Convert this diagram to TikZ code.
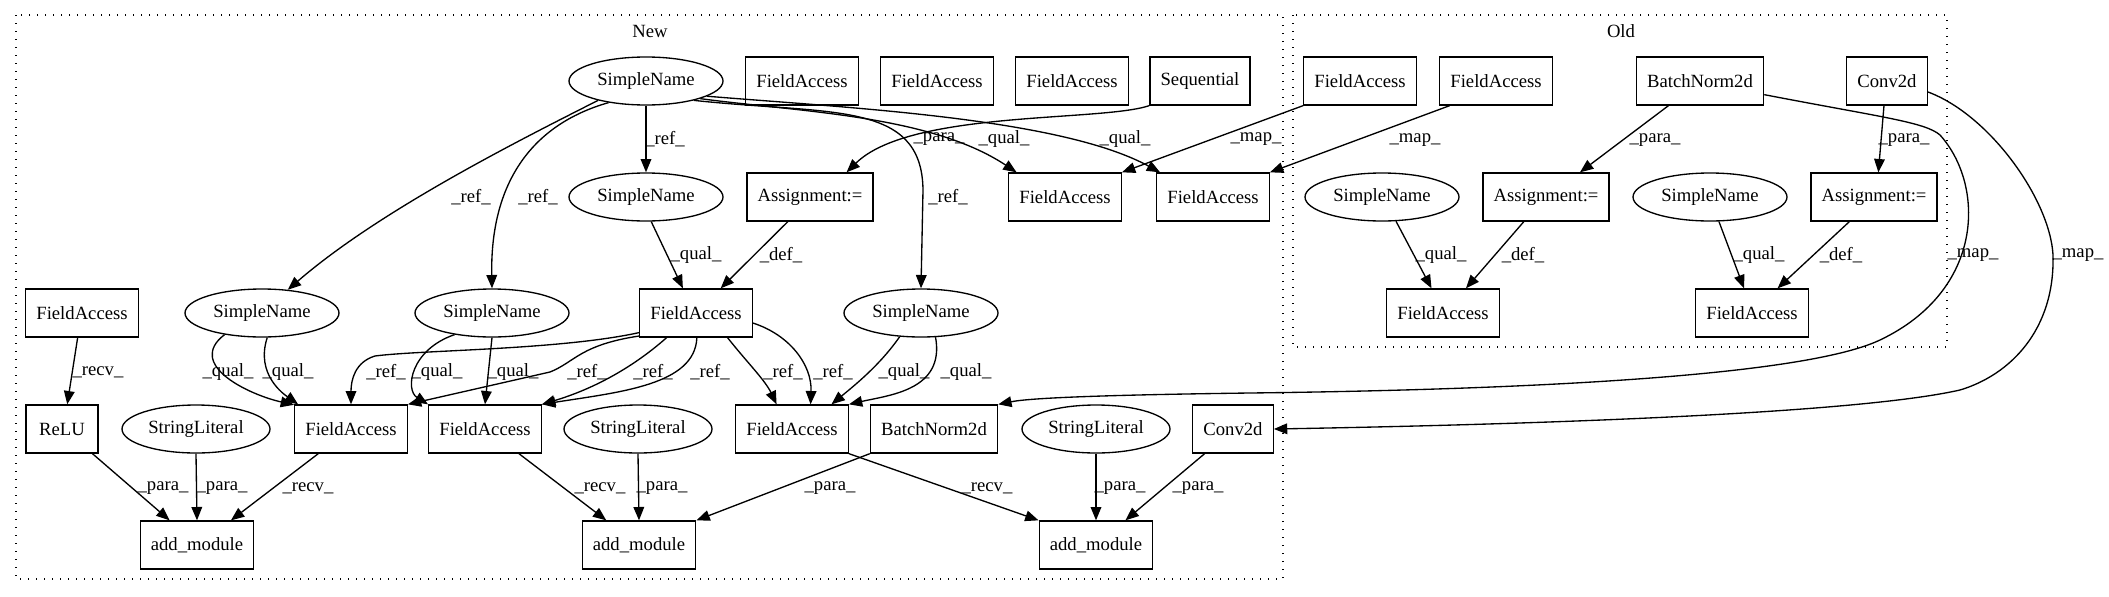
\documentclass[tikz,border=0pt]{standalone}
\usepackage{fontspec}
\setmainfont{Liberation Serif}
\usetikzlibrary{arrows.meta, shapes.geometric}

\begin{document}
\begin{tikzpicture}[
    x=0.75pt, y=-0.75pt,
    >={Triangle[length=10pt,width=8pt]},
    box/.style={
      draw, rectangle,
      line width=1pt,
      minimum height=36pt,
      minimum width=54pt,
      inner xsep=8pt, inner ysep=0pt,
      font=\fontsize{14pt}{17pt}\selectfont,
    },
    oval/.style={
      draw, ellipse,
      line width=1pt,
      minimum height=36pt,
      inner sep=0pt,
      font=\fontsize{14pt}{17pt}\selectfont,
    },
    sname/.style={oval, minimum width=115.5pt},
    slit/.style={oval, minimum width=111pt},
    conn/.style={->, line width=1pt},
    lbl/.style={font=\fontsize{14pt}{17pt}\selectfont, inner sep=0pt},
    cluster/.style={line width=1pt, dash pattern=on 1pt off 5pt},
  ]

  \useasboundingbox (0,0) rectangle (2109,596);

  % --- Clusters ---
  \draw[cluster] (16,15) rectangle (1283,579);
  \node[lbl] (tnew) at (650,31) {New};
  \draw[cluster] (1293,15) rectangle (1947,347);
  \node[lbl] (told) at (1621,31) {Old};

  % --- New: nodes ---
  \node[sname] (S0) at (646,81) {SimpleName};
  \node[box] (FA1) at (802,81) {FieldAccess};
  \node[box] (FA2) at (937,81) {FieldAccess};
  \node[box] (FA3) at (1072,81) {FieldAccess};
  \node[box] (Seq) at (1200,81) {Sequential};

  \node[sname] (S1) at (646,197) {SimpleName};
  \node[box] (A1) at (810,197) {Assignment:=};
  \node[box] (FB1) at (1065,197) {FieldAccess};
  \node[box] (FB2) at (1213,197) {FieldAccess};

  \node[box] (FL) at (82,313) {FieldAccess};
  \node[sname] (S2) at (262,313) {SimpleName};
  \node[sname] (S3) at (492,313) {SimpleName};
  \node[box] (FM) at (696,313) {FieldAccess};
  \node[sname] (S4) at (921,313) {SimpleName};

  \node[box] (ReLU) at (62,429) {ReLU};
  \node[slit] (SL1) at (196,429) {StringLiteral};
  \node[box] (FR1) at (351,429) {FieldAccess};
  \node[box] (FR2) at (485,429) {FieldAccess};
  \node[slit] (SL2) at (638,429) {StringLiteral};
  \node[box] (FR3) at (792,429) {FieldAccess};
  \node[box] (BN) at (934,429) {BatchNorm2d};
  \node[slit] (SL3) at (1096,429) {StringLiteral};
  \node[box] (CV) at (1233,429) {Conv2d};

  \node[box] (AM1) at (197,545) {add\_module};
  \node[box] (AM2) at (639,545) {add\_module};
  \node[box] (AM3) at (1096,545) {add\_module};

  % --- Old: nodes ---
  \node[box] (OF1) at (1360,81) {FieldAccess};
  \node[box] (OF2) at (1496,81) {FieldAccess};
  \node[box] (OBN) at (1700,81) {BatchNorm2d};
  \node[box] (OCV) at (1887,81) {Conv2d};

  \node[sname] (OS1) at (1382,197) {SimpleName};
  \node[box] (OA1) at (1546,197) {Assignment:=};
  \node[sname] (OS2) at (1710,197) {SimpleName};
  \node[box] (OA2) at (1874,197) {Assignment:=};

  \node[box] (OG1) at (1443,313) {FieldAccess};
  \node[box] (OG2) at (1752,313) {FieldAccess};

  % --- New: top rows ---
  \draw[conn] (S0) -- (S1) node[lbl] at (665,139) {\_ref\_};
  \draw[conn] (S0.-158) .. controls (520,140) and (380,210) .. (S2.42)
    node[lbl] at (471,197) {\_ref\_};
  \draw[conn] (S0.-150) .. controls (530,125) and (490,185) .. (S3.north)
    node[lbl] at (538,197) {\_ref\_};
  \draw[conn] (S0.-22) .. controls (830,115) and (922,100) .. (923,190) -- (S4.north)
    node[lbl] at (948,197) {\_ref\_};
  \draw[conn] (S0.-18) .. controls (800,112) and (930,115) .. (FB1.153)
    node[lbl] at (1004,139) {\_qual\_};
  \draw[conn] (S0.-14) .. controls (850,108) and (1060,118) .. (FB2.155)
    node[lbl] at (1125,139) {\_qual\_};
  \draw[conn] (Seq.south west) .. controls (1100,122) and (910,110) .. (A1.34)
    node[lbl] at (939,139) {\_para\_};
  \draw[conn] (S1.-78) -- (FM.118) node[lbl] at (696,255) {\_qual\_};
  \draw[conn] (A1.-132) -- (FM.45) node[lbl] at (781,255) {\_def\_};

  % --- New: qualifiers and references ---
  \draw[conn] (FL.-100) -- (ReLU.78) node[lbl] at (98,372) {\_recv\_};
  \draw[conn] (S2.-150) .. controls (185,365) and (250,395) .. (FR1.157)
    node[lbl] at (228,372) {\_qual\_};
  \draw[conn] (S2.-78) .. controls (255,375) and (285,395) .. (FR1.155)
    node[lbl] at (288,372) {\_qual\_};
  \draw[conn] (S3.-150) .. controls (410,350) and (405,390) .. (FR2.north west)
    node[lbl] at (437,372) {\_qual\_};
  \draw[conn] (S3.south) -- (FR2.north) node[lbl] at (513,372) {\_qual\_};
  \draw[conn] (FM.-161) .. controls (560,350) and (420,350) .. (375,356)
    .. controls (355,362) and (351,380) .. (FR1.north)
    node[lbl] at (386,372) {\_ref\_};
  \draw[conn] (FM.-158) .. controls (580,345) and (575,362) .. (550,372) -- (FR1.north east)
    node[lbl] at (587,372) {\_ref\_};
  \draw[conn] (FM.-140) .. controls (630,370) and (590,390) .. (FR2.north east)
    node[lbl] at (653,372) {\_ref\_};
  \draw[conn] (FM.-88) .. controls (695,385) and (620,392) .. (FR2.north east)
    node[lbl] at (710,372) {\_ref\_};
  \draw[conn] (FM.-38) .. controls (745,360) and (765,380) .. (FR3.122)
    node[lbl] at (783,372) {\_ref\_};
  \draw[conn] (FM.-10) .. controls (790,335) and (812,365) .. (FR3.53)
    node[lbl] at (833,372) {\_ref\_};
  \draw[conn] (S4.-132) .. controls (880,365) and (855,385) .. (FR3.32)
    node[lbl] at (904,372) {\_qual\_};
  \draw[conn] (S4.-59) .. controls (945,390) and (890,395) .. (FR3.north east)
    node[lbl] at (966,372) {\_qual\_};

  % --- New: add_module calls ---
  \draw[conn] (ReLU.-39) -- (AM1.138) node[lbl] at (163,488) {\_para\_};
  \draw[conn] (SL1.south) -- (AM1.north) node[lbl] at (222,488) {\_para\_};
  \draw[conn] (FR1.-143) -- (AM1.36) node[lbl] at (308,488) {\_recv\_};
  \draw[conn] (FR2.-36) -- (AM2.143) node[lbl] at (600,488) {\_recv\_};
  \draw[conn] (SL2.south) -- (AM2.north) node[lbl] at (662,488) {\_para\_};
  \draw[conn] (BN.south west) -- (AM2.north east) node[lbl] at (830,488) {\_para\_};
  \draw[conn] (FR3.south east) -- (AM3.north west) node[lbl] at (987,488) {\_recv\_};
  \draw[conn] (SL3.south) -- (AM3.north) node[lbl] at (1120,488) {\_para\_};
  \draw[conn] (CV.-139) -- (AM3.40) node[lbl] at (1198,488) {\_para\_};

  % --- Old: edges ---
  \draw[conn] (OBN.-142) -- (OA1.36) node[lbl] at (1655,140) {\_para\_};
  \draw[conn] (OCV.-97) -- (OA2.80) node[lbl] at (1904,140) {\_para\_};
  \draw[conn] (OS1.-60) -- (OG1.115) node[lbl] at (1441,255) {\_qual\_};
  \draw[conn] (OA1.-132) -- (OG1.47) node[lbl] at (1523,255) {\_def\_};
  \draw[conn] (OS2.-70) -- (OG2.108) node[lbl] at (1759,255) {\_qual\_};
  \draw[conn] (OA2.-135) -- (OG2.44) node[lbl] at (1841,255) {\_def\_};

  % --- Mapping Old -> New ---
  \draw[conn] (OF1.south west) -- (FB1.north east) node[lbl] at (1256,139) {\_map\_};
  \draw[conn] (OF2.-152) -- (FB2.north east) node[lbl] at (1415,140) {\_map\_};
  \draw[conn] (OBN.-12) .. controls (1880,117) and (1925,122) .. (1940,135)
    .. controls (1985,185) and (1985,290) .. (1880,340)
    .. controls (1800,378) and (1500,390) .. (1250,393)
    .. controls (1100,395) and (1030,398) .. (BN.north east)
    node[lbl] at (1973,255) {\_map\_};
  \draw[conn] (OCV.-15) .. controls (1990,115) and (2050,200) .. (2053,255)
    .. controls (2055,330) and (2010,375) .. (1960,390)
    .. controls (1850,415) and (1500,425) .. (CV.east)
    node[lbl] at (2078,255) {\_map\_};

\end{tikzpicture}
\end{document}
